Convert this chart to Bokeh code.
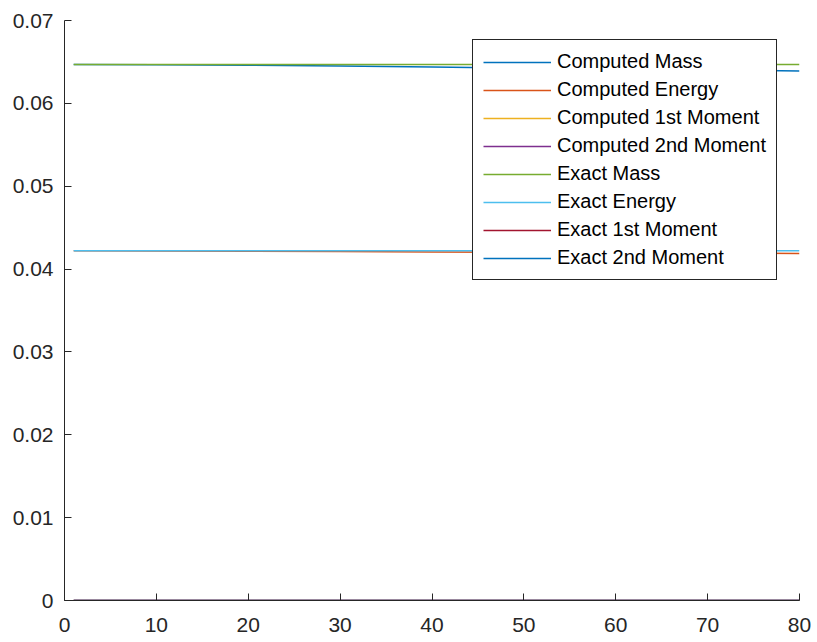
from bokeh.plotting import figure
from bokeh.models import Range1d, FixedTicker, CustomJSTickFormatter, Legend, LegendItem
from bokeh.embed import file_html
from bokeh.resources import INLINE

# ---- data ----
t = [1, 10, 20, 30, 40, 50, 60, 70, 80]
computed_mass = [0.0647, 0.06466, 0.06460, 0.06452, 0.06440, 0.06425, 0.06412, 0.06400, 0.06392]
computed_energy = [0.04220, 0.04218, 0.04215, 0.04212, 0.04207, 0.04202, 0.04197, 0.04192, 0.04188]
computed_m1 = [0, 0, 0, 0, 0, 0, 0, 0, 0]
computed_m2 = [0, 0, 0, 0, 0, 0, 0, 0, 0]
exact_mass = [0.0647, 0.0647, 0.0647, 0.0647, 0.0647, 0.0647, 0.0647, 0.0647, 0.0647]
exact_energy = [0.0422, 0.0422, 0.0422, 0.0422, 0.0422, 0.0422, 0.0422, 0.0422, 0.0422]
exact_m1 = [0, 0, 0, 0, 0, 0, 0, 0, 0]
exact_m2 = [0, 0, 0, 0, 0, 0, 0, 0, 0]

labels = ["Computed Mass", "Computed Energy", "Computed 1st Moment", "Computed 2nd Moment",
          "Exact Mass", "Exact Energy", "Exact 1st Moment", "Exact 2nd Moment"]
series = [computed_mass, computed_energy, computed_m1, computed_m2,
          exact_mass, exact_energy, exact_m1, exact_m2]
colors = ["#0072BD", "#D95319", "#EDB120", "#7E2F8E",
          "#77AC30", "#4DBEEE", "#A2142F", "#0072BD"]

x_ticks = [0, 10, 20, 30, 40, 50, 60, 70, 80]
y_ticks = [0, 0.01, 0.02, 0.03, 0.04, 0.05, 0.06, 0.07]

FONT = "Liberation Sans"

p = figure(frame_width=735, frame_height=580,
           min_border_left=64, min_border_right=12, min_border_top=20, min_border_bottom=40,
           x_range=Range1d(0, 80), y_range=Range1d(0, 0.07),
           output_backend="svg", toolbar_location=None)
p.outline_line_color = None
p.xgrid.visible = False
p.ygrid.visible = False
p.background_fill_color = "white"
p.border_fill_color = "white"

items = []
for lab, ys, c in zip(labels, series, colors):
    r = p.line(t, ys, line_color=c, line_width=1.5)
    items.append(LegendItem(label=lab, renderers=[r]))

fmt = CustomJSTickFormatter(code="return tick.toFixed(2).replace(/0+$/,'').replace(/\\.$/,'');")
for ax, ticks in ((p.xaxis[0], x_ticks), (p.yaxis[0], y_ticks)):
    ax.ticker = FixedTicker(ticks=ticks)
    ax.minor_tick_line_color = None
    ax.major_tick_in = 7
    ax.major_tick_out = 0
    ax.axis_line_color = "#262626"
    ax.major_tick_line_color = "#262626"
    ax.major_label_text_color = "#262626"
    ax.major_label_text_font = FONT
    ax.major_label_text_font_size = "21px"
p.xaxis[0].major_label_standoff = 17
p.yaxis[0].major_label_standoff = 11
p.yaxis[0].formatter = fmt

legend = Legend(items=items, location=(408, 320))
legend.label_text_font = FONT
legend.label_text_font_size = "20px"
legend.label_text_color = "black"
legend.glyph_width = 68
legend.glyph_height = 20
legend.label_height = 20
legend.spacing = 5
legend.padding = 10
legend.margin = 0
legend.label_standoff = 6
legend.border_line_color = "#262626"
legend.border_line_alpha = 1.0
legend.border_line_width = 1
legend.background_fill_alpha = 1.0
p.add_layout(legend, "center")

open("out.html", "w").write(file_html(p, INLINE))
